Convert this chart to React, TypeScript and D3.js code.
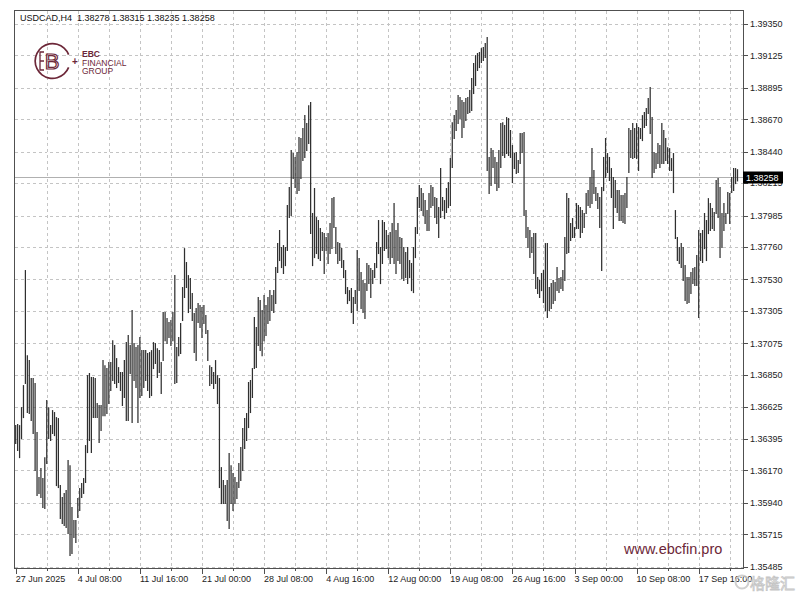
import React from 'react';
import * as d3 from 'd3';

const title = 'USDCAD,H4  1.38278 1.38315 1.38235 1.38258';
const lastPrice = 1.38258;

const highs = [
1.36493,1.36501,1.36493,1.36621,1.36778,1.37597,1.36991,1.36956,1.36828,1.36828,
1.36793,1.36444,1.36123,1.36187,1.36116,1.36265,1.36671,1.36621,1.36493,1.36600,
1.36586,1.36550,1.36543,1.36066,1.35981,1.36010,1.36031,1.36244,1.36208,1.35910,
1.35817,1.35817,1.35974,1.36045,1.36081,1.36116,1.36351,1.36849,1.36864,1.36835,
1.36835,1.36828,1.36650,1.36636,1.36636,1.36956,1.36920,1.36899,1.36942,1.36942,
1.37098,1.37063,1.36970,1.36906,1.36871,1.36871,1.36956,1.37084,1.37134,1.37063,
1.37312,1.37077,1.37049,1.37063,1.37120,1.37027,1.37027,1.37027,1.37006,1.37013,
1.37027,1.37084,1.37077,1.37041,1.37027,1.36942,1.37298,1.37298,1.37255,1.37227,
1.37241,1.37298,1.37561,1.37049,1.37120,1.37220,1.37476,1.37753,1.37654,1.37561,
1.37540,1.37433,1.37291,1.37326,1.37362,1.37348,1.37333,1.37348,1.37277,1.37170,
1.36920,1.36906,1.36871,1.36956,1.36849,1.36828,1.36194,1.36102,1.36066,1.36102,
1.36294,1.36208,1.36152,1.36123,1.36088,1.36223,1.36337,1.36472,1.36543,1.36579,
1.36800,1.36814,1.36899,1.37262,1.37191,1.37405,1.37383,1.37312,1.37419,1.37348,
1.37405,1.37454,1.37419,1.37454,1.37618,1.37789,1.37882,1.37761,1.37775,1.37761,
1.38060,1.38188,1.38451,1.38430,1.38402,1.38437,1.38544,1.38537,1.38608,1.38700,
1.38643,1.38771,1.38793,1.38003,1.38181,1.37974,1.37953,1.37896,1.37867,1.37860,
1.37832,1.37860,1.37931,1.38109,1.38117,1.37903,1.37796,1.37789,1.37753,1.37668,
1.37597,1.37476,1.37454,1.37469,1.37405,1.37454,1.37739,1.37682,1.37583,1.37526,
1.37504,1.37647,1.37632,1.37611,1.37597,1.37647,1.37796,1.37953,1.37761,1.37953,
1.37939,1.37882,1.37846,1.37867,1.37931,1.38074,1.37882,1.37931,1.37832,1.37825,
1.37761,1.37725,1.37761,1.37668,1.37647,1.37761,1.37903,1.38117,1.38202,1.38181,
1.38145,1.38095,1.38024,1.38145,1.38202,1.38188,1.38117,1.38109,1.38045,1.38323,
1.38117,1.38095,1.38181,1.38223,1.38394,1.38650,1.38700,1.38736,1.38843,1.38828,
1.38807,1.38793,1.38821,1.38828,1.38878,1.38964,1.39071,1.39127,1.39142,1.39149,
1.39177,1.39184,1.39213,1.39256,1.38402,1.38465,1.38451,1.38402,1.38366,1.38451,
1.38643,1.38650,1.38629,1.38686,1.38679,1.38594,1.38487,1.38430,1.38437,1.38380,
1.38572,1.38572,1.38579,1.38024,1.37903,1.37882,1.37832,1.37860,1.37860,1.37547,
1.37526,1.37576,1.37597,1.37789,1.37789,1.37476,1.37504,1.37526,1.37511,1.37618,
1.37540,1.37547,1.37597,1.37832,1.38145,1.38109,1.37931,1.37967,1.37903,1.38074,
1.38060,1.38045,1.38024,1.38003,1.38145,1.38166,1.38259,1.38465,1.38309,1.38188,
1.38145,1.38117,1.38188,1.38402,1.38537,1.38430,1.38402,1.38323,1.38259,1.38238,
1.38166,1.38166,1.38131,1.38131,1.38145,1.38259,1.38608,1.38594,1.38643,1.38608,
1.38643,1.38615,1.38608,1.38700,1.38722,1.38750,1.38821,1.38900,1.38686,1.38437,
1.38430,1.38501,1.38487,1.38643,1.38594,1.38537,1.38472,1.38465,1.38394,1.38430,
1.38024,1.37832,1.37761,1.37789,1.37761,1.37632,1.37547,1.37547,1.37583,1.37611,
1.37618,1.37704,1.37882,1.37860,1.37882,1.38003,1.37953,1.38109,1.38074,1.38038,
1.38010,1.38238,1.38252,1.38188,1.38003,1.38074,1.38003,1.38152,1.38145,1.38259,
1.38323,1.38323,1.38315
];

const lows = [
1.36366,1.36315,1.36265,1.36401,1.36550,1.36793,1.36586,1.36579,1.36529,1.36437,
1.36173,1.35995,1.36010,1.35981,1.35910,1.35903,1.36223,1.36401,1.36387,1.36437,
1.36422,1.36066,1.36052,1.35831,1.35796,1.35781,1.35767,1.35725,1.35568,1.35583,
1.35696,1.35660,1.35838,1.35888,1.35981,1.36010,1.36088,1.36301,1.36387,1.36301,
1.36550,1.36550,1.36550,1.36373,1.36458,1.36564,1.36564,1.36579,1.36650,1.36743,
1.36814,1.36793,1.36764,1.36800,1.36743,1.36636,1.36693,1.36529,1.36529,1.36864,
1.36515,1.36814,1.36764,1.36515,1.36693,1.36707,1.36764,1.36814,1.36743,1.36693,
1.36707,1.36899,1.36935,1.36835,1.36871,1.36721,1.36956,1.37098,1.37077,1.37120,
1.37063,1.37098,1.36793,1.36800,1.36991,1.37006,1.37241,1.37405,1.37476,1.37298,
1.37326,1.37241,1.37013,1.36956,1.37227,1.37191,1.37120,1.37220,1.37149,1.36956,
1.36778,1.36793,1.36757,1.36793,1.36650,1.36052,1.35938,1.35938,1.35938,1.35817,
1.35760,1.35938,1.35888,1.35938,1.35974,1.36052,1.36102,1.36173,1.36330,1.36387,
1.36479,1.36586,1.36693,1.36899,1.36906,1.37063,1.37027,1.36991,1.37098,1.37134,
1.37220,1.37241,1.37312,1.37298,1.37362,1.37583,1.37668,1.37618,1.37576,1.37632,
1.37739,1.37974,1.37988,1.38252,1.38188,1.38145,1.38166,1.38252,1.38380,1.38402,
1.38451,1.38501,1.37860,1.37632,1.37689,1.37718,1.37682,1.37668,1.37739,1.37576,
1.37739,1.37647,1.37718,1.37753,1.37903,1.37718,1.37647,1.37668,1.37618,1.37547,
1.37433,1.37362,1.37383,1.37298,1.37220,1.37362,1.37312,1.37454,1.37326,1.37298,
1.37255,1.37454,1.37504,1.37405,1.37504,1.37547,1.37618,1.37718,1.37504,1.37647,
1.37739,1.37753,1.37689,1.37647,1.37689,1.37647,1.37576,1.37668,1.37647,1.37540,
1.37526,1.37547,1.37504,1.37547,1.37454,1.37440,1.37689,1.37860,1.38045,1.38024,
1.37988,1.37931,1.37882,1.37882,1.38045,1.38060,1.37974,1.37931,1.37832,1.37974,
1.38024,1.37967,1.38010,1.38045,1.38060,1.38330,1.38537,1.38594,1.38643,1.38679,
1.38544,1.38615,1.38665,1.38715,1.38722,1.38736,1.38857,1.38914,1.39021,1.39042,
1.39078,1.39092,1.39113,1.38309,1.38145,1.38202,1.38330,1.38216,1.38166,1.38188,
1.38330,1.38416,1.38402,1.38430,1.38416,1.38402,1.38223,1.38323,1.38287,1.38295,
1.38359,1.38437,1.37988,1.37832,1.37761,1.37689,1.37725,1.37576,1.37469,1.37433,
1.37405,1.37454,1.37369,1.37312,1.37262,1.37312,1.37326,1.37362,1.37383,1.37454,
1.37440,1.37469,1.37454,1.37526,1.37718,1.37725,1.37811,1.37832,1.37832,1.37896,
1.37896,1.37832,1.37867,1.37903,1.38003,1.38060,1.38045,1.38074,1.38145,1.38095,
1.38038,1.37903,1.37597,1.38166,1.38259,1.38295,1.38238,1.38117,1.37896,1.38045,
1.38010,1.37953,1.37953,1.37939,1.37931,1.38045,1.38295,1.38402,1.38394,1.38402,
1.38394,1.38309,1.38537,1.38522,1.38615,1.38629,1.38715,1.38572,1.38259,1.38295,
1.38323,1.38359,1.38330,1.38359,1.38359,1.38380,1.38359,1.38309,1.38309,1.38152,
1.37825,1.37668,1.37647,1.37618,1.37526,1.37383,1.37362,1.37369,1.37433,1.37504,
1.37490,1.37490,1.37262,1.37668,1.37654,1.37753,1.37668,1.37860,1.37882,1.37896,
1.37882,1.38003,1.37974,1.37689,1.37761,1.37882,1.37931,1.38003,1.37931,1.38152,
1.38166,1.38216,1.38235
];

const xLabels = [
  '27 Jun 2025', '4 Jul 08:00', '11 Jul 16:00', '21 Jul 00:00', '28 Jul 08:00',
  '4 Aug 16:00', '12 Aug 00:00', '19 Aug 08:00', '26 Aug 16:00', '3 Sep 00:00',
  '10 Sep 08:00', '17 Sep 16:00'
];
const barsPerLabel = 32;
const barsPerGrid = 16;

const yLabels = [
  '1.39350', '1.39125', '1.38895', '1.38670', '1.38440', '1.38215', '1.37985',
  '1.37760', '1.37530', '1.37305', '1.37075', '1.36850', '1.36625', '1.36395',
  '1.36170', '1.35940', '1.35715', '1.35485'
];

const watermark = '格隆汇';

const FONT = '"Liberation Sans", Arial, sans-serif';
const MAROON = '#6c2738';

export default function App() {
  const W = 800, H = 597;
  const left = 14.5, right = 743.5, top = 10.5, bottom = 568.5;
  const x = d3.scaleLinear().domain([0, 352]).range([15.7, 698.7]);
  const y = d3.scaleLinear().domain([1.35485, 1.3935]).range([566.7, 23.8]);
  const px = (v: number) => Math.round(v) + 0.5;

  const gridX: number[] = [];
  for (let k = 1; x(k * barsPerGrid) < right - 1; k++) gridX.push(k * barsPerGrid);

  const bars = d3.range(highs.length);
  const lastY = px(y(lastPrice));

  return (
    <div style={{ position: 'absolute', left: 0, top: 0 }}>
      <svg width={W} height={H} style={{ display: 'block', background: '#fff' }}>
        <rect x={0} y={0} width={W} height={H} fill="#fff" />
        {/* grid */}
        <g stroke="#c4c4c4" strokeWidth={1} strokeDasharray="3,3" shapeRendering="crispEdges">
          {yLabels.map((l) => (
            <line key={'h' + l} x1={left} x2={right} y1={px(y(+l))} y2={px(y(+l))} />
          ))}
          {gridX.map((g) => (
            <line key={'v' + g} x1={px(x(g))} x2={px(x(g))} y1={top} y2={bottom} />
          ))}
        </g>
        {/* price line */}
        <line x1={left} x2={right} y1={lastY} y2={lastY} stroke="#b0b0b0" strokeWidth={1} shapeRendering="crispEdges" />
        {/* logo */}
        <g>
          <path
            d={d3.arc()({ innerRadius: 16.5, outerRadius: 18.2, startAngle: Math.PI * 0.62, endAngle: Math.PI * 2.38 }) as string}
            transform="translate(52.5,61)"
            fill={MAROON}
          />
          <text x={52} y={69} textAnchor="middle" fontFamily={FONT} fontSize={22} fill="none" stroke={MAROON} strokeWidth={1.2}>B</text>
          <path d="M44 52 H40 V70 H44 M40 61 H44" fill="none" stroke={MAROON} strokeWidth={1.3} />
          <text x={75} y={65} textAnchor="middle" fontFamily={FONT} fontSize={10} fontWeight="bold" fill={MAROON}>+</text>
          <text x={82} y={57} fontFamily={FONT} fontSize={8.5} fontWeight="bold" fill={MAROON}>EBC</text>
          <text x={82} y={65.5} fontFamily={FONT} fontSize={8.5} fill={MAROON}>FINANCIAL</text>
          <text x={82} y={74} fontFamily={FONT} fontSize={8.5} fill={MAROON}>GROUP</text>
        </g>
        {/* bars */}
        <g stroke="#303030" strokeWidth={1.25}>
          {bars.map((i) => (
            <line key={i} x1={x(i)} x2={x(i)} y1={y(highs[i])} y2={y(lows[i]) + 1} />
          ))}
        </g>
        {/* frame */}
        <rect x={left} y={top} width={right - left} height={bottom - top} fill="none" stroke="#505050" strokeWidth={1} shapeRendering="crispEdges" />
        {/* y axis */}
        <g fontFamily={FONT} fontSize={9} fill="#222">
          {yLabels.map((l) => (
            <g key={'y' + l}>
              <line x1={right} x2={right + 4} y1={px(y(+l))} y2={px(y(+l))} stroke="#505050" shapeRendering="crispEdges" />
              <text x={750} y={y(+l) + 3.2}>{l}</text>
            </g>
          ))}
        </g>
        {/* last price tag */}
        <rect x={743} y={lastY - 6} width={40} height={12} fill="#000" />
        <text x={746} y={lastY + 3.5} fontFamily={FONT} fontSize={9} fill="#fff">{lastPrice.toFixed(5)}</text>
        {/* x axis */}
        <g fontFamily={FONT} fontSize={9} fill="#222">
          {gridX.map((g) => (
            <line key={'xt' + g} x1={px(x(g))} x2={px(x(g))} y1={bottom} y2={bottom + 2} stroke="#505050" shapeRendering="crispEdges" />
          ))}
          {xLabels.map((l, k) => (
            <g key={'x' + l}>
              <line x1={px(x(k * barsPerLabel))} x2={px(x(k * barsPerLabel))} y1={bottom} y2={bottom + 5} stroke="#505050" shapeRendering="crispEdges" />
              <text x={x(k * barsPerLabel)} y={581.5}>{l}</text>
            </g>
          ))}
        </g>
        {/* watermark */}
        <g opacity={0.85}>
          <circle cx={742} cy={582} r={6.5} fill="none" stroke="#c8c8c8" strokeWidth={2} />
          <text x={750} y={589} fontFamily='"Noto Sans CJK SC", sans-serif' fontSize={15} fill="#f4f4f4" stroke="#bdbdbd" strokeWidth={0.8}>{watermark}</text>
        </g>
        {/* title */}
        <text x={20} y={21} fontFamily={FONT} fontSize={9} fill="#111" style={{ whiteSpace: 'pre' }}>{title}</text>
        {/* website */}
        <text x={624} y={554} fontFamily={FONT} fontSize={14.5} fill={MAROON}>www.ebcfin.pro</text>
      </svg>
    </div>
  );
}
